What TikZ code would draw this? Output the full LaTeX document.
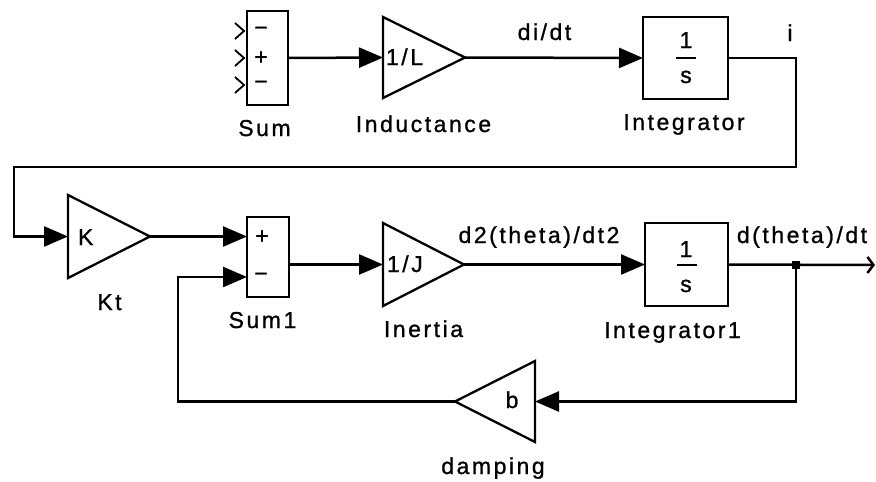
\documentclass[tikz,border=0pt]{standalone}
\usepackage{fontspec}
\setmainfont{Liberation Sans}[LetterSpace=11,FakeBold=1]
\usetikzlibrary{arrows.meta}
\begin{document}
\begin{tikzpicture}[x=1pt,y=-1pt,
  every node/.style={font=\fontsize{23}{26}\selectfont, inner sep=0pt, outer sep=0pt},
  box/.style={draw, line width=2.5pt},
  gainblk/.style={},
  tri/.style={line width=2.3pt, line join=miter},
  wire/.style={line width=2.5pt},
  arr/.style={wire, -{Triangle[length=24pt,width=20pt]}},
  lbl/.style={anchor=base},
  chev/.style={line width=1.8pt}]
\useasboundingbox (0,0) rectangle (876,482);

% ---- top row ----
\node[box, minimum width=41pt, minimum height=94pt] (sum) at (267.5,58) {};
\draw[chev] (235,23) -- (244,31) -- (235,39);
\draw[chev] (235,50) -- (244,58) -- (235,66);
\draw[chev] (235,77) -- (244,85) -- (235,93);
\node (sm1) at (261,31) {\textminus};
\node (sp1) at (261,58) {+};
\node (sm2) at (261,85) {\textminus};
\node[lbl] (sumlbl) at (264.5,136) {Sum};

\node[gainblk, minimum width=82pt, minimum height=81pt] (ind) at (424,57.5) {};
\draw[tri] (ind.north west) -- (ind.east) -- (ind.south west) -- cycle;
\node[anchor=base west] (indk) at (386,65) {1/L};
\node[lbl] (indlbl) at (423.5,132) {Inductance};

\node[box, minimum width=85pt, minimum height=82pt] (int) at (685.5,58) {};
\node[anchor=base] (intn) at (686,48) {1};
\draw[wire] (676,58) -- (696,58);
\node[anchor=base] (ints) at (686,83) {s};
\node[lbl] (intlbl) at (684,130) {Integrator};

\node[lbl] (didt) at (544.5,40) {di/dt};
\node[lbl] (ilbl) at (790,41) {i};

% ---- middle row ----
\node[gainblk, minimum width=82pt, minimum height=83pt] (kt) at (109,236.5) {};
\draw[tri] (kt.north west) -- (kt.east) -- (kt.south west) -- cycle;
\node[anchor=base west] (ktk) at (78,245) {K};
\node[lbl] (ktlbl) at (109.5,310) {Kt};

\node[box, minimum width=42pt, minimum height=80pt] (sum1) at (268,257) {};
\node (s1p) at (262,237) {+};
\node (s1m) at (261,277) {\textminus};
\node[lbl] (sum1lbl) at (262.5,328) {Sum1};

\node[gainblk, minimum width=81pt, minimum height=83pt] (ine) at (423.5,264.5) {};
\draw[tri] (ine.north west) -- (ine.east) -- (ine.south west) -- cycle;
\node[anchor=base west] (inek) at (387,272) {1/J};
\node[lbl] (inelbl) at (423.5,337) {Inertia};

\node[box, minimum width=83pt, minimum height=83pt] (int1) at (686.5,264.5) {};
\node[anchor=base] (int1n) at (686,257) {1};
\draw[wire] (677,265) -- (697,265);
\node[anchor=base] (int1s) at (686,292) {s};
\node[lbl] (int1lbl) at (672.5,338) {Integrator1};

\node[lbl] (d2lbl) at (539,243) {d2(theta)/dt2};
\node[lbl] (d1lbl) at (802,243) {d(theta)/dt};

% ---- bottom row ----
\node[gainblk, minimum width=80pt, minimum height=81pt] (damp) at (495,401.5) {};
\draw[tri] (damp.north east) -- (damp.west) -- (damp.south east) -- cycle;
\node[anchor=base] (dampk) at (512,408) {b};
\node[lbl] (damplbl) at (493,474) {damping};

% ---- connectors ----
\coordinate (c1) at (796,167);
\coordinate (c2) at (14,167);
\coordinate (out) at (875,265);
\coordinate (fb) at (178,401.5);
\coordinate (y277) at (0,277);
\node[fill, minimum width=8pt, minimum height=8pt] (dot) at (796,264.5) {};

\draw[arr] (sum.east) -- (ind.west);
\draw[arr] (ind.east) -- (int.west);
\draw[arr] (int.east) -| (c1) -- (c2) |- (kt.west);
\draw[arr] (kt.east) -- (kt.east -| sum1.west);
\draw[arr] (sum1.east |- ine.west) -- (ine.west);
\draw[arr] (ine.east) -- (int1.west);
\draw[wire, -{Straight Barb[length=6pt,width=16pt]}] (int1.east) -- (out);
\draw[arr] (dot.center) |- (damp.east);
\draw[arr] (damp.west) -- (fb) |- (sum1.west |- y277);
\end{tikzpicture}
\end{document}
